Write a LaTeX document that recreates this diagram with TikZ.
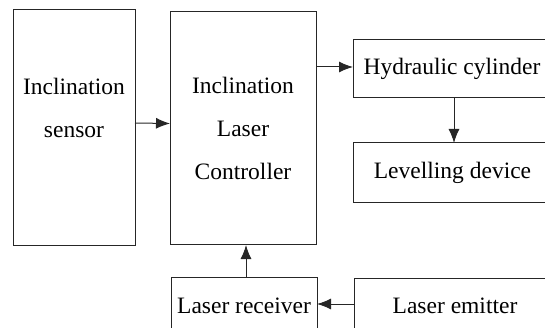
\documentclass[tikz,border=0pt]{standalone}
\usepackage{fontspec}
\setmainfont{Liberation Serif}
\usetikzlibrary{arrows.meta}
\begin{document}
\begin{tikzpicture}[x=1pt,y=1pt,
  box/.style={draw=black!85, line width=1pt, inner sep=0pt, outer sep=0pt, align=center,
    font=\fontsize{23.5}{43}\selectfont, text=black},
  arr/.style={draw=black!85, line width=1pt, -{Latex[length=14pt,width=11pt]}}]
\useasboundingbox (0,0) rectangle (545,-328);
\clip (0,0) rectangle (545,-328);
\node[box, minimum width=122pt, minimum height=236pt] (sensor) at (74,-128) {Inclination\\sensor\\[-16pt]\strut};
\node[box, minimum width=146pt, minimum height=233pt] (ctrl) at (243,-128.5) {Inclination\\Laser\\Controller};
\node[box, minimum width=195pt, minimum height=58pt] (hyd) at (450.5,-69) {\raisebox{-4pt}{\hspace*{3pt}Hydraulic cylinder}};
\node[box, minimum width=195pt, minimum height=60pt] (lev) at (450.5,-173) {\raisebox{-3pt}{\hspace*{4pt}Levelling device}};
\node[box, minimum width=146pt, minimum height=58pt] (rec) at (244,-306) {Laser receiver};
\node[box, minimum width=194pt, minimum height=58pt] (emit) at (451,-307) {\raisebox{2pt}{\hspace*{8pt}Laser emitter}};
\draw[arr] ([yshift=5pt]sensor.east) -- ([yshift=5pt]ctrl.west);
\draw[arr] ([yshift=2pt]ctrl.east |- hyd.west) -- ([yshift=2pt]hyd.west);
\draw[arr] ([xshift=3.5pt]hyd.south) -- ([xshift=3.5pt]lev.north);
\draw[arr] ([xshift=2pt]rec.north) -- ([xshift=2pt]rec.north |- ctrl.south);
\draw[arr] ([yshift=3pt]emit.west) -- ([yshift=3pt]emit.west -| rec.east);
\end{tikzpicture}
\end{document}
